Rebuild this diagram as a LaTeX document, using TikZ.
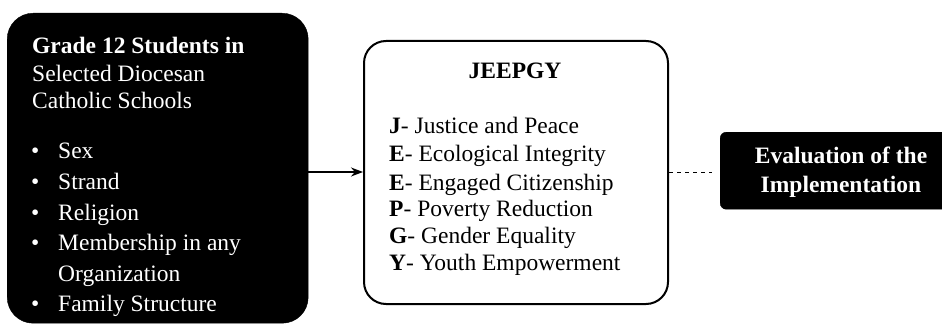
\documentclass[tikz,border=0pt]{standalone}
\usepackage{fontspec}
\setmainfont{Liberation Serif}
\usetikzlibrary{arrows.meta}
\begin{document}
\begin{tikzpicture}[x=1pt,y=-1pt,
  txt/.style={anchor=base west,inner sep=0pt,font=\fontsize{23.5}{28}\selectfont},
  btxt/.style={txt,font=\fontsize{23.5}{28}\selectfont\bfseries},
  wtxt/.style={txt,text=white},
  wbtxt/.style={btxt,text=white},
  darkbox/.style={fill=black,draw=black,rounded corners=#1},
  lightbox/.style={draw=black,line width=2pt,fill=white,rounded corners=22pt},
  link/.style={line width=1.6pt,-{Stealth[length=12pt,width=9pt]}},
  dashlink/.style={line width=1pt,dash pattern=on 4pt off 4pt}]
\useasboundingbox (0,0) rectangle (942,329);

% input profile box
\node[darkbox=26pt,minimum width=301pt,minimum height=310pt,anchor=north west] (profile) at (7,13) {};
\node[wbtxt] (h1) at (32,53.3) {Grade 12 Students in};
\node[wtxt] (h2) at (32,81.7) {Selected Diocesan};
\node[wtxt] (h3) at (32,108.5) {Catholic Schools};
\foreach \y/\t [count=\i] in {158/Sex,189/Strand,220/Religion,250.7/Membership in any,311.7/Family Structure}{
  \node[wtxt] (b\i) at (31,\y) {\textbullet};
  \node[wtxt] (v\i) at (58,\y) {\t};
}
\node[wtxt] (v6) at (58,281.7) {Organization};

% JEEPGY box
\node[lightbox,minimum width=304pt,minimum height=263pt,anchor=north west] (jeepgy) at (363,40) {};
\node[btxt,anchor=base] (jt) at (515,78) {JEEPGY};
\foreach \y/\l/\t [count=\i] in {133.3/J/Justice and Peace,161.7/E/Ecological Integrity,190/E/Engaged Citizenship,216.7/P/Poverty Reduction,243.3/G/Gender Equality,270/Y/Youth Empowerment}{
  \node[txt] (j\i) at (389,\y) {\textbf{\l}- \t};
}

% evaluation box
\node[darkbox=6pt,minimum width=232pt,minimum height=77pt,anchor=north west] (eval) at (720,132) {};
\node[wbtxt,anchor=base] (e1) at (841,163) {Evaluation of the};
\node[wbtxt,anchor=base] (e2) at (841,192.5) {Implementation};

% connectors
\draw[link] (profile.east |- 0,172) -- (jeepgy.west |- 0,172);
\draw[dashlink,shorten >=8pt] (jeepgy.east |- 0,172) -- (eval.west |- 0,172);
\end{tikzpicture}
\end{document}
